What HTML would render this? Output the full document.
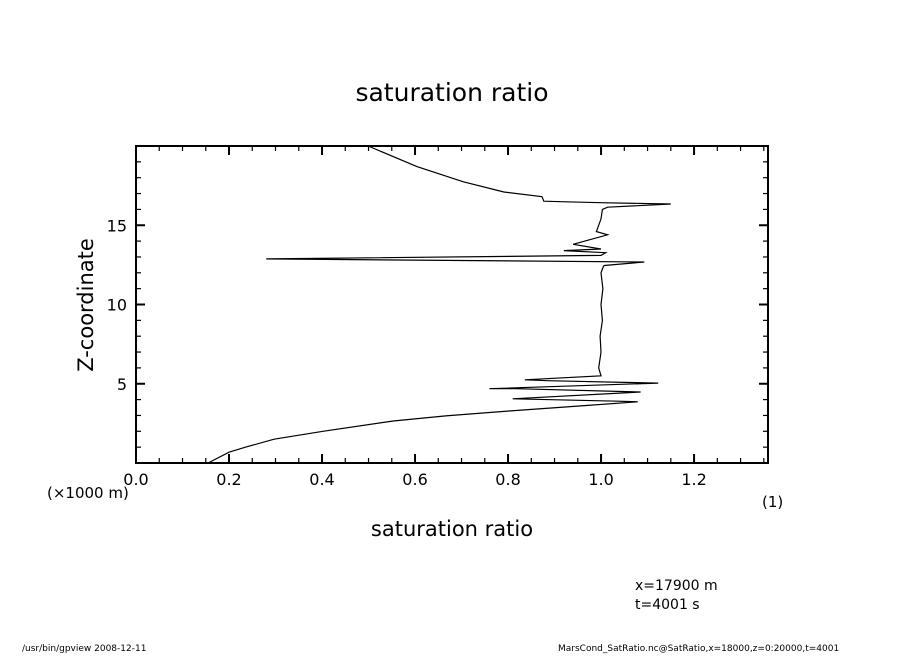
<!DOCTYPE html>
<html><head><meta charset="utf-8"><style>
html,body{margin:0;padding:0;background:#fff;}
svg text{font-family:"DejaVu Sans","Liberation Sans",sans-serif;fill:#000;}
</style></head><body>
<svg id="chart" width="904" height="654" viewBox="0 0 904 654" xmlns="http://www.w3.org/2000/svg">
<rect width="904" height="654" fill="#fff"/>
<text x="452" y="101" font-size="25" text-anchor="middle">saturation ratio</text>
<g id="axes"></g>
<path id="curve" fill="none" stroke="#000" stroke-width="1.2"/>
<rect x="136" y="146" width="632" height="317" fill="none" stroke="#000" stroke-width="2"/>
<text transform="translate(93,305) rotate(-90)" font-size="21" text-anchor="middle">Z-coordinate</text>
<text x="452" y="536" font-size="21" text-anchor="middle">saturation ratio</text>
<text x="47" y="498" font-size="15">(×1000 m)</text>
<text x="762" y="507" font-size="15">(1)</text>
<text x="635" y="590" font-size="14">x=17900  m</text>
<text x="635" y="609" font-size="14">t=4001  s</text>
<text x="22" y="651" font-size="9">/usr/bin/gpview   2008-12-11</text>
<text x="558" y="651" font-size="9">MarsCond_SatRatio.nc@SatRatio,x=18000,z=0:20000,t=4001</text>
</svg>
<script>
const xTickValues=[0,0.2,0.4,0.6,0.8,1.0,1.2];
const xTickLabels=["0.0","0.2","0.4","0.6","0.8","1.0","1.2"];
const yTickValues=[5,10,15];
const yTickLabels=["5","10","15"];
const ratioValues=[0.155,0.2,0.236,0.297,0.402,0.553,0.666,0.802,0.968,1.079,1.036,0.81,1.085,0.817,0.76,1.123,0.885,0.836,1.0,0.995,1.0,0.998,1.003,1.0,1.004,1.0,1.005,1.007,1.093,0.28,1.0,1.01,0.92,1.0,0.94,1.014,0.99,1.0,1.003,1.014,1.15,1.0,0.924,0.877,0.873,0.791,0.704,0.604,0.499];
const zValues=[0,0.68,1.0,1.5,2.0,2.65,2.97,3.28,3.63,3.86,3.9,4.05,4.48,4.69,4.69,5.04,5.19,5.25,5.5,6,7,8,9,10,11,12,12.4,12.46,12.68,12.88,13.1,13.27,13.4,13.5,13.8,14.4,14.6,15.4,16.0,16.14,16.34,16.42,16.48,16.52,16.8,17.1,17.74,18.7,20];
const X0=136,X1=768,Y0=463,Y1=146,XMAX=1.359,ZMAX=20;
function sx(v){return X0+v/XMAX*(X1-X0);}
function sy(v){return Y0-v/ZMAX*(Y0-Y1);}
const NS="http://www.w3.org/2000/svg";
const g=document.getElementById('axes');
function line(x1,y1,x2,y2,w,name){const l=document.createElementNS(NS,'line');l.setAttribute('x1',x1);l.setAttribute('y1',y1);l.setAttribute('x2',x2);l.setAttribute('y2',y2);l.setAttribute('stroke','#000');l.setAttribute('stroke-width',w);


g.appendChild(l);}
for(let i=0;i*0.05<=XMAX+1e-9;i++){const v=i*0.05,x=sx(v),maj=(i%4===0),L=maj?9:5,w=maj?2:1.2;
line(x,Y0,x,Y0-L,w,'x-tick');line(x,Y1,x,Y1+L,w,'x-tick-top');}
for(let z=1;z<ZMAX;z++){const y=sy(z),maj=(z%5===0),L=maj?9:5,w=maj?2:1.2;
line(X0,y,X0+L,y,w,'y-tick');line(X1,y,X1-L,y,w,'y-tick-right');}
xTickValues.forEach((v,i)=>{const t=document.createElementNS(NS,'text');t.setAttribute('x',sx(v));t.setAttribute('y',485);t.setAttribute('font-size','16');t.setAttribute('text-anchor','middle');t.textContent=xTickLabels[i];


g.appendChild(t);});
yTickValues.forEach((v,i)=>{const t=document.createElementNS(NS,'text');t.setAttribute('x',127);t.setAttribute('y',sy(v)+6);t.setAttribute('font-size','16');t.setAttribute('text-anchor','end');t.textContent=yTickLabels[i];


g.appendChild(t);});
document.getElementById('curve').setAttribute('d',ratioValues.map((v,i)=>(i?'L':'M')+sx(v).toFixed(1)+','+sy(zValues[i]).toFixed(1)).join(' '));
</script>
</body></html>
